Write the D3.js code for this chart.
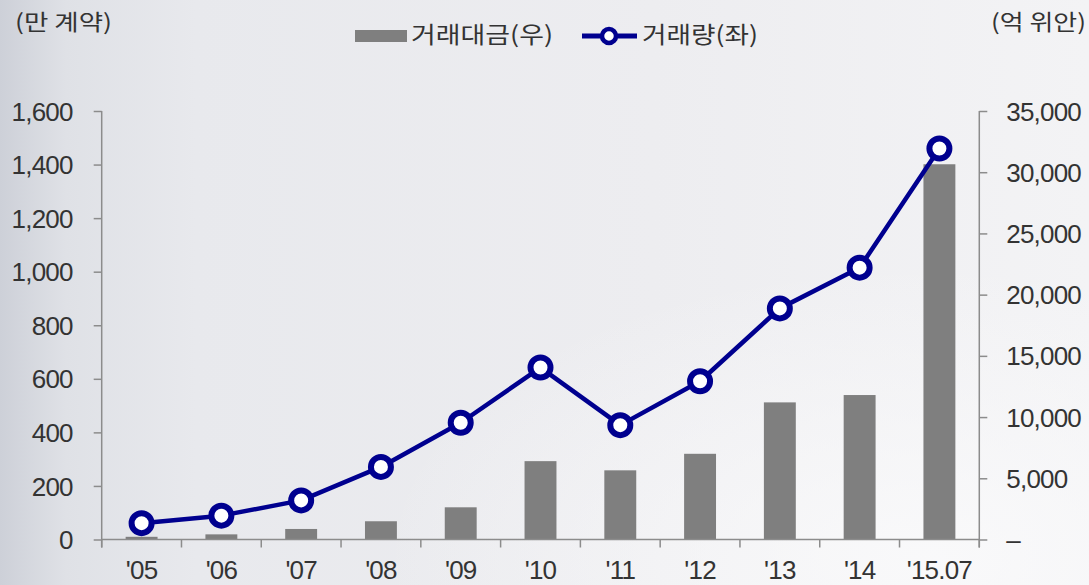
<!DOCTYPE html>
<html>
<head>
<meta charset="utf-8">
<script src="https://cdn.jsdelivr.net/npm/d3@7"></script>
<style>
  html, body { margin: 0; padding: 0; background: #ececef; }
  svg { display: block; }
</style>
</head>
<body>
<svg id="chart" width="1089" height="585"></svg>
<script>
// Yearly data: trading value (bars, right axis, 억 위안) and trading volume (line, left axis, 만 계약)
const categories = ["'05", "'06", "'07", "'08", "'09", "'10", "'11", "'12", "'13", "'14", "'15.07"];
const tradeValue = [220, 420, 860, 1490, 2630, 6400, 5650, 7000, 11200, 11800, 30650];
const tradeVolume = [61, 89, 146, 271, 436, 642, 427, 591, 863, 1015, 1460];
const leftTicks = [0, 200, 400, 600, 800, 1000, 1200, 1400, 1600];
const rightTicks = [0, 5000, 10000, 15000, 20000, 25000, 30000, 35000];
const leftUnit = "(만 계약)";
const rightUnit = "(억 위안)";
const legendLabels = ["거래대금(우)", "거래량(좌)"];

const W = 1089, H = 585;
const plot = { left: 101.7, right: 979.3, top: 111, bottom: 539.5 };
const navy = "#00008f";
const barGray = "#7f7f7f";
const axisGray = "#8c8c8c";
const textColor = "#333333";
const numFont = "'Liberation Sans', Arial, sans-serif";
const krFont = "'Noto Sans CJK KR', 'Noto Sans', sans-serif";

const svg = d3.select("#chart");

// Background: brushed light-gray panel, darker toward the left edge
const defs = svg.append("defs");
const bg = defs.append("linearGradient").attr("id", "bg").attr("x1", 0).attr("x2", 1).attr("y1", 0).attr("y2", 0);
[[0, "#cdd0d8"], [0.06, "#dfe1e6"], [0.18, "#e8e9ed"], [0.6, "#ededf0"], [1, "#f3f3f5"]]
  .forEach(([o, c]) => bg.append("stop").attr("offset", o).attr("stop-color", c));
const glow = defs.append("radialGradient").attr("id", "glow").attr("cx", 0.85).attr("cy", 0.95).attr("r", 0.5);
glow.append("stop").attr("offset", 0).attr("stop-color", "#fafafb").attr("stop-opacity", 0.9);
glow.append("stop").attr("offset", 1).attr("stop-color", "#fafafb").attr("stop-opacity", 0);
svg.append("rect").attr("width", W).attr("height", H).attr("fill", "url(#bg)");
svg.append("rect").attr("width", W).attr("height", H).attr("fill", "url(#glow)");

// Scales
const x = d3.scaleBand().domain(categories).range([plot.left, plot.right]).padding(0);
const yL = d3.scaleLinear().domain([0, 1600]).range([plot.bottom, plot.top]);
const yR = d3.scaleLinear().domain([0, 35000]).range([plot.bottom, plot.top]);
const barW = x.bandwidth() * 0.4;
const cx = d => x(d) + x.bandwidth() / 2;

// Bars (right axis)
svg.append("g").selectAll("rect").data(categories).join("rect")
  .attr("x", d => cx(d) - barW / 2)
  .attr("width", barW)
  .attr("y", (d, i) => yR(tradeValue[i]))
  .attr("height", (d, i) => yR(0) - yR(tradeValue[i]))
  .attr("fill", barGray);

// Left axis
const gL = svg.append("g").attr("transform", `translate(${plot.left},0)`)
  .call(d3.axisLeft(yL).tickValues(leftTicks).tickFormat(d3.format(",")).tickSize(8).tickSizeOuter(0).tickPadding(21));
gL.select(".domain").remove();
gL.append("line").attr("x1", 0).attr("x2", 0).attr("y1", plot.top).attr("y2", plot.bottom + 8)
  .attr("stroke", axisGray).attr("stroke-width", 1.5);

// Right axis
const gR = svg.append("g").attr("transform", `translate(${plot.right},0)`)
  .call(d3.axisRight(yR).tickValues(rightTicks).tickFormat(d => d === 0 ? "–" : d3.format(",")(d)).tickSize(8).tickSizeOuter(0).tickPadding(19));
gR.select(".domain").remove();
gR.append("line").attr("x1", 0).attr("x2", 0).attr("y1", plot.top).attr("y2", plot.bottom + 8)
  .attr("stroke", axisGray).attr("stroke-width", 1.5);

[gL, gR].forEach(g => {
  g.selectAll(".tick line").attr("stroke", axisGray).attr("stroke-width", 1.5);
  g.selectAll(".tick text").attr("fill", textColor).attr("font-family", numFont)
    .attr("font-size", 26).attr("letter-spacing", -0.8).attr("dy", "0.35em");
});

// Bottom axis: baseline, ticks at band boundaries, centered labels
const gB = svg.append("g").attr("transform", `translate(0,${plot.bottom})`);
gB.append("line").attr("x1", plot.left).attr("x2", plot.right).attr("y1", 0).attr("y2", 0)
  .attr("stroke", axisGray).attr("stroke-width", 1.5);
const bounds = categories.map(d => x(d)).concat([plot.right]);
gB.selectAll("line.tk").data(bounds).join("line").attr("class", "tk")
  .attr("x1", d => d).attr("x2", d => d).attr("y1", 0).attr("y2", 8)
  .attr("stroke", axisGray).attr("stroke-width", 1.5);
gB.selectAll("text").data(categories).join("text")
  .attr("x", d => cx(d)).attr("y", 39.5)
  .attr("text-anchor", "middle").attr("fill", textColor)
  .attr("font-family", numFont).attr("font-size", 26).attr("letter-spacing", -0.8)
  .text(d => d);

// Volume line (left axis)
const line = d3.line().x((d, i) => cx(categories[i])).y(d => yL(d));
svg.append("path").datum(tradeVolume).attr("d", line)
  .attr("fill", "none").attr("stroke", navy).attr("stroke-width", 4.5).attr("stroke-linejoin", "round");
svg.append("g").selectAll("circle").data(tradeVolume).join("circle")
  .attr("cx", (d, i) => cx(categories[i])).attr("cy", d => yL(d))
  .attr("r", 10).attr("fill", "#ffffff").attr("stroke", navy).attr("stroke-width", 6);

// Unit labels
svg.append("text").attr("x", 15).attr("y", 30).attr("fill", textColor)
  .attr("font-family", krFont).attr("font-size", 22).attr("textLength", 97).attr("lengthAdjust", "spacingAndGlyphs")
  .text(leftUnit);
svg.append("text").attr("x", 991).attr("y", 30).attr("fill", textColor)
  .attr("font-family", krFont).attr("font-size", 22).attr("textLength", 95).attr("lengthAdjust", "spacingAndGlyphs")
  .text(rightUnit);

// Legend
const lg = svg.append("g");
lg.append("rect").attr("x", 355).attr("y", 30).attr("width", 52).attr("height", 12).attr("fill", barGray);
lg.append("text").attr("x", 411).attr("y", 43).attr("fill", textColor)
  .attr("font-family", krFont).attr("font-size", 23).attr("textLength", 142).attr("lengthAdjust", "spacingAndGlyphs")
  .text(legendLabels[0]);
lg.append("line").attr("x1", 582).attr("x2", 637).attr("y1", 36).attr("y2", 36)
  .attr("stroke", navy).attr("stroke-width", 5);
lg.append("circle").attr("cx", 609).attr("cy", 36).attr("r", 7)
  .attr("fill", "#ffffff").attr("stroke", navy).attr("stroke-width", 4.5);
lg.append("text").attr("x", 642).attr("y", 43).attr("fill", textColor)
  .attr("font-family", krFont).attr("font-size", 23).attr("textLength", 116).attr("lengthAdjust", "spacingAndGlyphs")
  .text(legendLabels[1]);
</script>
</body>
</html>
